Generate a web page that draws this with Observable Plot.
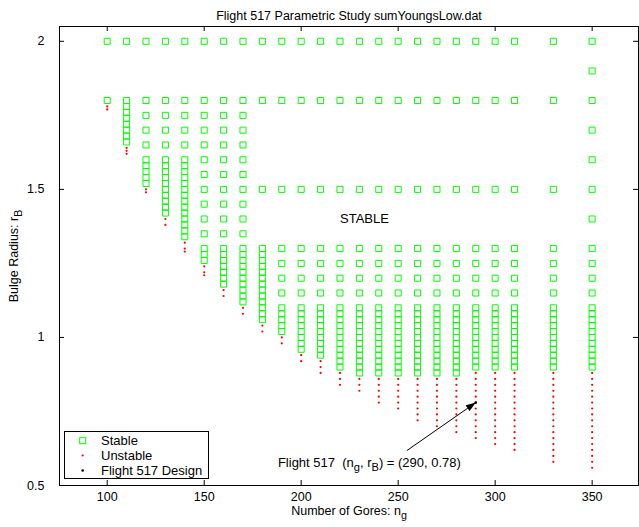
<!DOCTYPE html>
<html><head><meta charset="utf-8">
<script src="https://cdn.jsdelivr.net/npm/d3@7"></script>
<script src="https://cdn.jsdelivr.net/npm/@observablehq/plot@0.6"></script>
<style>body{margin:0;background:#fff} svg text{white-space:pre}</style>
</head><body><div id="chart"></div>
<script>
// ---- data ----
const gores = [100,110,120,130,140,150,160,170,180,190,200,210,220,230,240,250,260,270,280,290,300,310,330,350];

const stableRadius = [
  [2.00,1.80],
  [2.00,1.80,1.78,1.76,1.74,1.72,1.70,1.68,1.66],
  [2.00,1.80,1.75,1.70,1.65,1.60,1.58,1.56,1.54,1.52],
  [2.00,1.80,1.75,1.70,1.65,1.60,1.58,1.56,1.54,1.52,1.50,1.48,1.46,1.44,1.42],
  [2.00,1.80,1.75,1.70,1.65,1.60,1.58,1.56,1.54,1.52,1.50,1.48,1.46,1.44,1.42,1.40,1.38,1.36,1.34],
  [2.00,1.80,1.75,1.70,1.65,1.60,1.55,1.50,1.45,1.40,1.35,1.30,1.28,1.26],
  [2.00,1.80,1.75,1.70,1.65,1.60,1.55,1.50,1.45,1.40,1.35,1.30,1.28,1.26,1.24,1.22,1.20,1.18],
  [2.00,1.80,1.75,1.70,1.65,1.60,1.55,1.50,1.45,1.40,1.35,1.30,1.28,1.26,1.24,1.22,1.20,1.18,1.16,1.14,1.12],
  [2.00,1.80,1.50,1.30,1.28,1.26,1.24,1.22,1.20,1.18,1.16,1.14,1.12,1.10,1.08,1.06],
  [2.00,1.80,1.50,1.30,1.25,1.20,1.15,1.10,1.08,1.06,1.04,1.02],
  [2.00,1.80,1.50,1.30,1.25,1.20,1.15,1.10,1.08,1.06,1.04,1.02,1.00,0.98,0.96],
  [2.00,1.80,1.50,1.30,1.25,1.20,1.15,1.10,1.08,1.06,1.04,1.02,1.00,0.98,0.96,0.94],
  [2.00,1.80,1.50,1.30,1.25,1.20,1.15,1.10,1.08,1.06,1.04,1.02,1.00,0.98,0.96,0.94,0.92,0.90],
  [2.00,1.80,1.50,1.30,1.25,1.20,1.15,1.10,1.08,1.06,1.04,1.02,1.00,0.98,0.96,0.94,0.92,0.90,0.88],
  [2.00,1.80,1.50,1.30,1.25,1.20,1.15,1.10,1.08,1.06,1.04,1.02,1.00,0.98,0.96,0.94,0.92,0.90,0.88],
  [2.00,1.80,1.50,1.30,1.25,1.20,1.15,1.10,1.08,1.06,1.04,1.02,1.00,0.98,0.96,0.94,0.92,0.90,0.88],
  [2.00,1.80,1.50,1.30,1.25,1.20,1.15,1.10,1.08,1.06,1.04,1.02,1.00,0.98,0.96,0.94,0.92,0.90,0.88],
  [2.00,1.80,1.50,1.30,1.25,1.20,1.15,1.10,1.08,1.06,1.04,1.02,1.00,0.98,0.96,0.94,0.92,0.90,0.88],
  [2.00,1.80,1.50,1.30,1.25,1.20,1.15,1.10,1.08,1.06,1.04,1.02,1.00,0.98,0.96,0.94,0.92,0.90,0.88],
  [2.00,1.80,1.50,1.30,1.25,1.20,1.15,1.10,1.08,1.06,1.04,1.02,1.00,0.98,0.96,0.94,0.92,0.90],
  [2.00,1.80,1.50,1.30,1.25,1.20,1.15,1.10,1.08,1.06,1.04,1.02,1.00,0.98,0.96,0.94,0.92,0.90],
  [2.00,1.80,1.50,1.30,1.25,1.20,1.15,1.10,1.08,1.06,1.04,1.02,1.00,0.98,0.96,0.94,0.92,0.90],
  [2.00,1.80,1.50,1.30,1.25,1.20,1.15,1.10,1.08,1.06,1.04,1.02,1.00,0.98,0.96,0.94,0.92,0.90],
  [2.00,1.90,1.80,1.70,1.60,1.50,1.40,1.30,1.25,1.20,1.15,1.10,1.08,1.06,1.04,1.02,1.00,0.98,0.96,0.94,0.92,0.90]
];

const unstableRadius = [
  [1.78,1.77],
  [1.64,1.63,1.62],
  [1.50,1.49],
  [1.40,1.38],
  [1.32,1.30,1.29],
  [1.24,1.22,1.21],
  [1.16,1.14],
  [1.10,1.08],
  [1.04,1.02],
  [1.00,0.98],
  [0.94,0.92],
  [0.92,0.90,0.88],
  [0.88,0.86,0.84],
  [0.86,0.84,0.82],
  [0.86,0.84,0.82,0.80,0.78],
  [0.86,0.84,0.82,0.80,0.78,0.76],
  [0.86,0.84,0.82,0.80,0.78,0.76,0.74,0.72],
  [0.86,0.84,0.82,0.80,0.78,0.76,0.74,0.72,0.70],
  [0.86,0.84,0.82,0.80,0.78,0.76,0.74,0.72,0.70,0.68],
  [0.88,0.86,0.84,0.82,0.80,0.78,0.76,0.74,0.72,0.70,0.68,0.66],
  [0.88,0.86,0.84,0.82,0.80,0.78,0.76,0.74,0.72,0.70,0.68,0.66,0.64],
  [0.88,0.86,0.84,0.82,0.80,0.78,0.76,0.74,0.72,0.70,0.68,0.66,0.64,0.62],
  [0.88,0.86,0.84,0.82,0.80,0.78,0.76,0.74,0.72,0.70,0.68,0.66,0.64,0.62,0.60,0.58],
  [0.88,0.86,0.84,0.82,0.80,0.78,0.76,0.74,0.72,0.70,0.68,0.66,0.64,0.62,0.60,0.58,0.56]
];

const designGores = [290];
const designRadius = [0.78];
const xTicks = [100,150,200,250,300,350];
const yTicks = [0.5,1,1.5,2];
const titleText = "Flight 517 Parametric Study sumYoungsLow.dat";
const xLabelText = "Number of Gores: n_{g}";
const yLabelText = "Bulge Radius: r_{B}";
const regionLabel = [{g: 220, r: 1.40, text: "STABLE"}];
const annotationLabel = [{g: 188, r: 0.575, text: "Flight 517  (n_{g}, r_{B}) = (290, 0.78)"}];
const annotationArrow = [{g1: 254.5, r1: 0.618, g2: 290, r2: 0.78}];
const legendLabels = ["Stable", "Unstable", "Flight 517 Design"];

// ---- build ----
const stablePts = gores.flatMap((g, i) => stableRadius[i].map(r => ({g, r})));
const unstablePts = gores.flatMap((g, i) => unstableRadius[i].map(r => ({g, r})));
const designPts = designGores.map((g, i) => ({g, r: designRadius[i]}));

const font = "'Liberation Sans', Arial, Helvetica, sans-serif";
const W = 639, H = 527, mL = 59, mR = 1, mT = 26, mB = 42;
const plotW = W - mL - mR, plotH = H - mT - mB;
const green = "#00ff00", red = "#ff0000";

const svg = Plot.plot({
  width: W, height: H,
  marginLeft: mL, marginRight: mR, marginTop: mT, marginBottom: mB,
  style: {fontFamily: font, fontSize: "12.5px", background: "white", color: "black", overflow: "visible"},
  x: {domain: [75.4, 373.9], label: null},
  y: {domain: [0.5, 2.05], label: null},
  marks: [
    Plot.tickX(xTicks, {x: d => d, stroke: "black", insetTop: plotH - 5}),
    Plot.tickX(xTicks, {x: d => d, stroke: "black", insetBottom: plotH - 5}),
    Plot.tickY(yTicks, {y: d => d, stroke: "black", insetRight: plotW - 5}),
    Plot.tickY(yTicks, {y: d => d, stroke: "black", insetLeft: plotW - 5}),
    Plot.axisX(xTicks, {anchor: "bottom", tickSize: 0, tickPadding: 7, label: null, fontSize: 12.5, tickFormat: d => String(d)}),
    Plot.axisY(yTicks, {anchor: "left", tickSize: 0, tickPadding: 15, label: null, fontSize: 12.5, tickFormat: d => String(d)}),
    Plot.dot(unstablePts, {x: "g", y: "r", r: 1.1, fill: red, stroke: "none"}),
    Plot.dot(stablePts, {x: "g", y: "r", symbol: "square", r: 3.4, stroke: green, fill: "none", strokeWidth: 1}),
    Plot.dot(designPts, {x: "g", y: "r", r: 1.3, fill: "black", stroke: "none"}),
    Plot.link(annotationArrow, {x1: "g1", y1: "r1", x2: "g2", y2: "r2", stroke: "black", strokeWidth: 1, markerEnd: "arrow"}),
    Plot.text(regionLabel, {x: "g", y: "r", text: "text", textAnchor: "start", fontSize: 13, fill: "black"}),
    Plot.text(annotationLabel, {x: "g", y: "r", text: "text", textAnchor: "start", fontSize: 13, fill: "black"}),
    Plot.text([titleText], {text: d => d, frameAnchor: "top", textAnchor: "middle", lineAnchor: "middle", dy: -10.5, fontSize: 12.5, fill: "black"}),
    Plot.text([xLabelText], {text: d => d, frameAnchor: "bottom", textAnchor: "middle", lineAnchor: "middle", dy: 25, fontSize: 12.5, fill: "black"}),
    Plot.text([yLabelText], {text: d => d, frameAnchor: "left", textAnchor: "middle", lineAnchor: "middle", dx: -46, rotate: -90, fontSize: 12.5, fill: "black"}),
    Plot.frame({stroke: "black", strokeWidth: 1})
  ]
});

// subscripts: turn "_{x}" into lowered tspans
svg.querySelectorAll("text").forEach(t => {
  const s = t.textContent;
  if (!s.includes("_{")) return;
  t.textContent = "";
  const re = /_\{([^}]*)\}/g;
  let last = 0, m, shifted = false;
  const add = (str, sub) => {
    const ts = document.createElementNS("http://www.w3.org/2000/svg", "tspan");
    ts.textContent = str;
    if (sub) { ts.setAttribute("dy", "4"); ts.setAttribute("font-size", "85%"); shifted = true; }
    else if (shifted) { ts.setAttribute("dy", "-4"); shifted = false; }
    t.appendChild(ts);
  };
  while ((m = re.exec(s))) {
    if (m.index > last) add(s.slice(last, m.index), false);
    add(m[1], true);
    last = re.lastIndex;
  }
  if (last < s.length) add(s.slice(last), false);
});

// filled arrow head
d3.select(svg).selectAll("marker")
  .attr("viewBox", "-10 -4 11 8")
  .attr("markerWidth", 11).attr("markerHeight", 8)
  .attr("fill", "black").attr("stroke", "none")
  .selectAll("path").attr("d", "M-10,-3.5L0,0L-10,3.5Z");

// legend box
const lg = d3.select(svg).append("g").attr("font-family", font).attr("font-size", 13).attr("text-anchor", "start");
lg.append("rect").attr("x", 64.5).attr("y", 431.5).attr("width", 144).attr("height", 47)
  .attr("fill", "white").attr("stroke", "black");
const rows = [440.7, 455.5, 470.5];
lg.append("rect").attr("x", 82.7 - 3).attr("y", rows[0] - 3).attr("width", 6).attr("height", 6)
  .attr("fill", "none").attr("stroke", green);
lg.append("circle").attr("cx", 82.7).attr("cy", rows[1]).attr("r", 1.1).attr("fill", red);
lg.append("circle").attr("cx", 82.7).attr("cy", rows[2]).attr("r", 1.3).attr("fill", "black");
legendLabels.forEach((lab, i) => {
  lg.append("text").attr("x", 101).attr("y", rows[i]).attr("dy", "0.35em")
    .attr("text-anchor", "start").attr("fill", "black").text(lab);
});

document.getElementById("chart").appendChild(svg);
</script>
</body></html>
